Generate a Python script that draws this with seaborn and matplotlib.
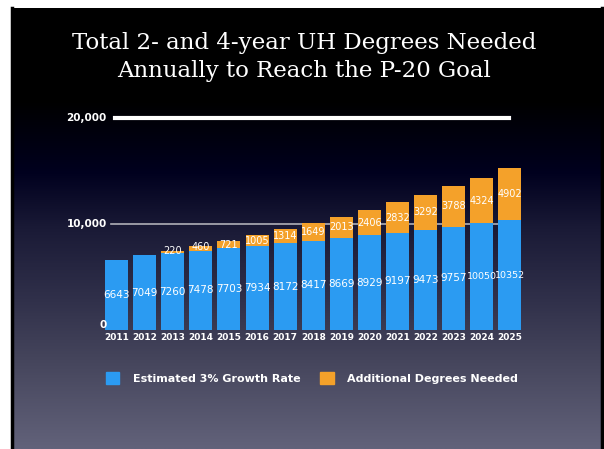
import numpy as np
import pandas as pd
import matplotlib
matplotlib.use("Agg")
import matplotlib.pyplot as plt
import matplotlib.transforms as mtransforms
import seaborn as sns
from matplotlib.colors import LinearSegmentedColormap
from matplotlib.patches import Rectangle

years = [str(y) for y in range(2011, 2026)]
estimated = [6643, 7049, 7260, 7478, 7703, 7934, 8172, 8417, 8669, 8929, 9197, 9473, 9757, 10050, 10352]
additional = [0, 0, 220, 460, 721, 1005, 1314, 1649, 2013, 2406, 2832, 3292, 3788, 4324, 4902]
ytick_vals = [0, 10000, 20000]
title_lines = "Total 2- and 4-year UH Degrees Needed\nAnnually to Reach the P-20 Goal"
legend_labels = ["Estimated 3% Growth Rate", "Additional Degrees Needed"]

blue = "#2b9bf2"
orange = "#f4a12a"

df = pd.DataFrame({"year": years, "est": estimated, "add": additional})
df["total"] = df["est"] + df["add"]

W, H = 604, 449
fig = plt.figure(figsize=(W / 100, H / 100), dpi=100, facecolor="white")

# slide background gradient
bg = fig.add_axes([12 / W, 0, 590 / W, 441 / H], zorder=-10)
cmap = LinearSegmentedColormap.from_list(
    "bg",
    [(0.0, "#000000"), (0.21, "#000000"), (0.37, "#00001e"), (0.50, "#1a1a36"),
     (0.66, "#30304a"), (0.80, "#45455c"), (1.0, "#62627a")],
)
grad = np.linspace(0, 1, 256).reshape(-1, 1)
bg.imshow(grad, aspect="auto", cmap=cmap, extent=[0, 1, 1, 0])
bg.set_xlim(0, 1)
bg.set_ylim(1, 0)
bg.set_xticks([])
bg.set_yticks([])
for s in ["top", "bottom"]:
    bg.spines[s].set_visible(False)
for s in ["left", "right"]:
    bg.spines[s].set_color("black")
    bg.spines[s].set_linewidth(2.5)

fig.text(304 / W, 1 - 57 / H, title_lines, ha="center", va="center", color="white",
         fontsize=16.5, family="DejaVu Serif", linespacing=1.4)

# main chart axes
x0, x1 = 102.5, 524
ybot, ytop = 330, 118
ax = fig.add_axes([x0 / W, (H - ybot) / H, (x1 - x0) / W, (ybot - ytop) / H])
ax.set_facecolor("none")

sns.barplot(data=df, x="year", y="total", color=orange, saturation=1, width=0.82,
            ax=ax, zorder=3, edgecolor="none")
sns.barplot(data=df, x="year", y="est", color=blue, saturation=1, width=0.82,
            ax=ax, zorder=4, edgecolor="none")

ax.set_ylim(0, 20000)
ax.set_xlim(-0.5, 14.5)
ax.axhline(10000, color="#b0b0b8", lw=1.2, zorder=2, xmin=0.02, xmax=0.98)
ax.axhline(20000, color="white", lw=3, zorder=2, xmin=0.03, xmax=0.965, clip_on=False)

for i, (e, a) in enumerate(zip(estimated, additional)):
    ax.text(i, e * 0.5, f"{e}", ha="center", va="center", color="white",
            fontsize=6.8 if e >= 10000 else 7.5, zorder=6)
    if a > 0:
        ax.text(i, e + a * 0.5 + (120 if a < 500 else 0), f"{a}", ha="center", va="center",
                color="white", fontsize=7, zorder=6)

# y tick labels drawn as text so the 0 can sit just above the year labels
ax.set_yticks([])
trans = mtransforms.blended_transform_factory(ax.transAxes, ax.transData)
offs = {0: 450, 10000: 0, 20000: 0}
for v in ytick_vals:
    ax.text(0.01, v + offs[v], f"{v:,}", transform=trans, ha="right", va="center",
            fontweight="bold", fontsize=7.5, color="white", zorder=7)
ax.tick_params(axis="both", length=0, pad=2)
ax.set_xticks(range(len(years)))
ax.set_xticklabels(years, fontweight="bold", fontsize=6.5, color="white")
ax.set_xlabel("")
ax.set_ylabel("")
for s in ax.spines.values():
    s.set_visible(False)

# legend
handles = [Rectangle((0, 0), 1, 1, color=blue), Rectangle((0, 0), 1, 1, color=orange)]
leg = fig.legend(handles, legend_labels, loc="center left", bbox_to_anchor=(96 / W, 1 - 378 / H),
                 ncol=2, frameon=False, fontsize=8, handlelength=1.2, handleheight=1.2,
                 columnspacing=1.8, handletextpad=1.2)
for t in leg.get_texts():
    t.set_color("white")
    t.set_fontweight("bold")

fig.savefig("out.png", dpi=100, facecolor="white")
